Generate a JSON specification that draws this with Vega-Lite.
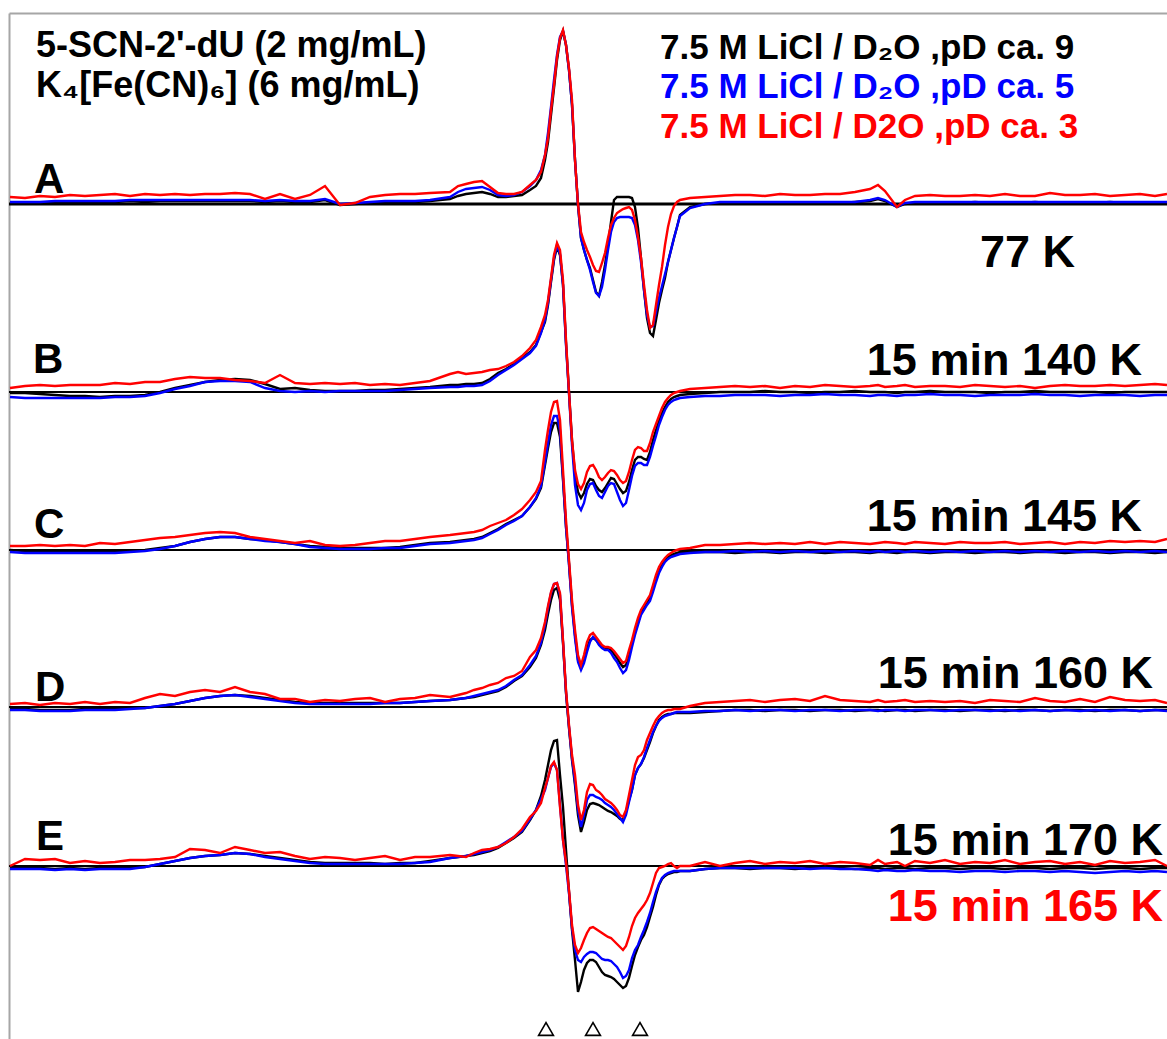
{
  "$schema": "https://vega.github.io/schema/vega-lite/v6.json",
  "width": 1158,
  "height": 1026,
  "autosize": "none",
  "padding": {"left": 9, "top": 13, "right": 0, "bottom": 0},
  "background": "white",
  "config": {
    "view": {"stroke": null},
    "font": "Liberation Sans",
    "axis": {"domainColor": "#a6a6a6", "domainWidth": 2, "ticks": false, "labels": false, "grid": false}
  },
  "datasets": {
    "zero": [
      {"panel": "A", "y": 204},
      {"panel": "B", "y": 392},
      {"panel": "C", "y": 550},
      {"panel": "D", "y": 707},
      {"panel": "E", "y": 866}
    ],
    "spectra": [
      {"x":10,"A9":203,"A5":202,"A3":197,"B9":393,"B5":397,"B3":388,"C9":550,"C5":552,"C3":546,"D9":709,"D5":710,"D3":704,"E9":868,"E5":869,"E3":866},
      {"x":25,"A9":203,"A5":202,"A3":198,"B9":393,"B5":398,"B3":386,"C9":551,"C5":553,"C3":546,"D9":709,"D5":710,"D3":703,"E9":868,"E5":869,"E3":859},
      {"x":40,"A9":203,"A5":202,"A3":196,"B9":394,"B5":398,"B3":385,"C9":551,"C5":553,"C3":545,"D9":710,"D5":711,"D3":705,"E9":868,"E5":869,"E3":860},
      {"x":55,"A9":202,"A5":201,"A3":197,"B9":395,"B5":398,"B3":386,"C9":551,"C5":553,"C3":546,"D9":710,"D5":711,"D3":703,"E9":869,"E5":870,"E3":859},
      {"x":70,"A9":203,"A5":201,"A3":195,"B9":396,"B5":398,"B3":385,"C9":552,"C5":553,"C3":545,"D9":710,"D5":711,"D3":704,"E9":868,"E5":869,"E3":863},
      {"x":85,"A9":202,"A5":201,"A3":196,"B9":396,"B5":398,"B3":385,"C9":552,"C5":553,"C3":546,"D9":709,"D5":710,"D3":702,"E9":869,"E5":870,"E3":861},
      {"x":100,"A9":202,"A5":201,"A3":195,"B9":397,"B5":398,"B3":385,"C9":552,"C5":553,"C3":543,"D9":709,"D5":710,"D3":704,"E9":868,"E5":869,"E3":863},
      {"x":115,"A9":202,"A5":201,"A3":194,"B9":396,"B5":397,"B3":383,"C9":552,"C5":553,"C3":544,"D9":709,"D5":710,"D3":702,"E9":868,"E5":869,"E3":862},
      {"x":130,"A9":201,"A5":200,"A3":196,"B9":396,"B5":397,"B3":384,"C9":551,"C5":552,"C3":542,"D9":708,"D5":709,"D3":703,"E9":868,"E5":869,"E3":860},
      {"x":145,"A9":202,"A5":200,"A3":194,"B9":395,"B5":396,"B3":382,"C9":550,"C5":551,"C3":540,"D9":708,"D5":708,"D3":698,"E9":867,"E5":867,"E3":860},
      {"x":160,"A9":201,"A5":200,"A3":195,"B9":392,"B5":393,"B3":382,"C9":548,"C5":549,"C3":538,"D9":706,"D5":706,"D3":694,"E9":864,"E5":864,"E3":859},
      {"x":175,"A9":201,"A5":200,"A3":194,"B9":388,"B5":389,"B3":379,"C9":546,"C5":546,"C3":537,"D9":704,"D5":704,"D3":696,"E9":861,"E5":861,"E3":857},
      {"x":190,"A9":201,"A5":200,"A3":195,"B9":385,"B5":386,"B3":377,"C9":542,"C5":542,"C3":535,"D9":701,"D5":701,"D3":692,"E9":858,"E5":858,"E3":849},
      {"x":205,"A9":201,"A5":200,"A3":194,"B9":382,"B5":382,"B3":378,"C9":539,"C5":539,"C3":533,"D9":698,"D5":698,"D3":690,"E9":856,"E5":856,"E3":850},
      {"x":220,"A9":201,"A5":200,"A3":194,"B9":380,"B5":381,"B3":378,"C9":537,"C5":537,"C3":532,"D9":696,"D5":696,"D3":692,"E9":855,"E5":855,"E3":853},
      {"x":235,"A9":201,"A5":200,"A3":193,"B9":379,"B5":381,"B3":380,"C9":537,"C5":537,"C3":533,"D9":695,"D5":695,"D3":687,"E9":853,"E5":853,"E3":847},
      {"x":250,"A9":201,"A5":200,"A3":194,"B9":380,"B5":382,"B3":381,"C9":539,"C5":539,"C3":537,"D9":696,"D5":697,"D3":692,"E9":854,"E5":854,"E3":850},
      {"x":265,"A9":202,"A5":201,"A3":199,"B9":384,"B5":388,"B3":383,"C9":540,"C5":541,"C3":539,"D9":698,"D5":699,"D3":694,"E9":856,"E5":857,"E3":853},
      {"x":280,"A9":201,"A5":200,"A3":194,"B9":389,"B5":391,"B3":375,"C9":542,"C5":542,"C3":541,"D9":700,"D5":701,"D3":699,"E9":858,"E5":859,"E3":852},
      {"x":295,"A9":202,"A5":201,"A3":199,"B9":388,"B5":392,"B3":383,"C9":544,"C5":544,"C3":543,"D9":702,"D5":703,"D3":699,"E9":860,"E5":861,"E3":856},
      {"x":310,"A9":202,"A5":201,"A3":195,"B9":390,"B5":391,"B3":384,"C9":546,"C5":547,"C3":541,"D9":703,"D5":704,"D3":702,"E9":862,"E5":863,"E3":859},
      {"x":325,"A9":200,"A5":199,"A3":186,"B9":391,"B5":392,"B3":383,"C9":547,"C5":548,"C3":545,"D9":703,"D5":704,"D3":700,"E9":863,"E5":864,"E3":857},
      {"x":340,"A9":205,"A5":204,"A3":205,"B9":391,"B5":391,"B3":384,"C9":548,"C5":549,"C3":546,"D9":703,"D5":704,"D3":701,"E9":863,"E5":864,"E3":858},
      {"x":355,"A9":204,"A5":203,"A3":203,"B9":391,"B5":391,"B3":383,"C9":548,"C5":549,"C3":545,"D9":703,"D5":704,"D3":699,"E9":863,"E5":864,"E3":860},
      {"x":370,"A9":203,"A5":202,"A3":197,"B9":390,"B5":391,"B3":385,"C9":548,"C5":549,"C3":543,"D9":703,"D5":704,"D3":698,"E9":863,"E5":864,"E3":858},
      {"x":385,"A9":202,"A5":201,"A3":195,"B9":390,"B5":391,"B3":384,"C9":548,"C5":548,"C3":541,"D9":703,"D5":703,"D3":702,"E9":864,"E5":864,"E3":856},
      {"x":400,"A9":202,"A5":201,"A3":194,"B9":389,"B5":390,"B3":385,"C9":547,"C5":548,"C3":541,"D9":703,"D5":703,"D3":699,"E9":863,"E5":864,"E3":860},
      {"x":415,"A9":202,"A5":201,"A3":194,"B9":388,"B5":389,"B3":383,"C9":545,"C5":546,"C3":539,"D9":702,"D5":702,"D3":698,"E9":863,"E5":863,"E3":857},
      {"x":430,"A9":201,"A5":200,"A3":193,"B9":387,"B5":388,"B3":381,"C9":543,"C5":544,"C3":537,"D9":701,"D5":701,"D3":695,"E9":861,"E5":862,"E3":857},
      {"x":450,"A9":199,"A5":197,"A3":192,"B9":385,"B5":387,"B3":374,"C9":542,"C5":543,"C3":535,"D9":700,"D5":700,"D3":697,"E9":858,"E5":858,"E3":855},
      {"x":458,"A9":196,"A5":192,"A3":186,"B9":385,"B5":387,"B3":372,"C9":541,"C5":542,"C3":534,"D9":699,"D5":699,"D3":695,"E9":857,"E5":857,"E3":856},
      {"x":466,"A9":194,"A5":189,"A3":184,"B9":384,"B5":386,"B3":374,"C9":540,"C5":541,"C3":533,"D9":698,"D5":698,"D3":693,"E9":856,"E5":856,"E3":857},
      {"x":474,"A9":193,"A5":188,"A3":182,"B9":384,"B5":386,"B3":373,"C9":539,"C5":540,"C3":532,"D9":697,"D5":696,"D3":690,"E9":855,"E5":854,"E3":853},
      {"x":482,"A9":192,"A5":187,"A3":181,"B9":383,"B5":385,"B3":372,"C9":537,"C5":538,"C3":530,"D9":695,"D5":694,"D3":688,"E9":853,"E5":852,"E3":850},
      {"x":490,"A9":194,"A5":190,"A3":187,"B9":379,"B5":381,"B3":370,"C9":533,"C5":534,"C3":526,"D9":693,"D5":692,"D3":685,"E9":851,"E5":850,"E3":849},
      {"x":498,"A9":197,"A5":195,"A3":193,"B9":373,"B5":375,"B3":369,"C9":529,"C5":530,"C3":523,"D9":691,"D5":690,"D3":683,"E9":848,"E5":847,"E3":847},
      {"x":506,"A9":197,"A5":196,"A3":194,"B9":369,"B5":370,"B3":366,"C9":524,"C5":525,"C3":520,"D9":687,"D5":686,"D3":678,"E9":843,"E5":842,"E3":843},
      {"x":514,"A9":196,"A5":195,"A3":194,"B9":364,"B5":365,"B3":362,"C9":520,"C5":521,"C3":515,"D9":681,"D5":680,"D3":676,"E9":838,"E5":837,"E3":837},
      {"x":522,"A9":195,"A5":192,"A3":192,"B9":358,"B5":359,"B3":356,"C9":516,"C5":516,"C3":509,"D9":676,"D5":675,"D3":671,"E9":832,"E5":831,"E3":829},
      {"x":530,"A9":190,"A5":186,"A3":185,"B9":352,"B5":353,"B3":348,"C9":507,"C5":507,"C3":500,"D9":667,"D5":665,"D3":657,"E9":820,"E5":819,"E3":817},
      {"x":536,"A9":186,"A5":180,"A3":180,"B9":345,"B5":346,"B3":340,"C9":499,"C5":498,"C3":492,"D9":658,"D5":656,"D3":650,"E9":810,"E5":810,"E3":811},
      {"x":541,"A9":178,"A5":170,"A3":172,"B9":332,"B5":333,"B3":327,"C9":488,"C5":486,"C3":481,"D9":645,"D5":643,"D3":638,"E9":796,"E5":799,"E3":803},
      {"x":545,"A9":160,"A5":155,"A3":155,"B9":322,"B5":320,"B3":315,"C9":465,"C5":462,"C3":450,"D9":630,"D5":625,"D3":622,"E9":780,"E5":790,"E3":788},
      {"x":548,"A9":142,"A5":133,"A3":138,"B9":305,"B5":303,"B3":300,"C9":448,"C5":443,"C3":430,"D9":614,"D5":608,"D3":606,"E9":765,"E5":778,"E3":778},
      {"x":551,"A9":115,"A5":107,"A3":110,"B9":282,"B5":280,"B3":278,"C9":432,"C5":425,"C3":412,"D9":600,"D5":593,"D3":592,"E9":750,"E5":767,"E3":766},
      {"x":554,"A9":88,"A5":80,"A3":85,"B9":260,"B5":258,"B3":255,"C9":423,"C5":416,"C3":402,"D9":590,"D5":584,"D3":584,"E9":741,"E5":763,"E3":762},
      {"x":557,"A9":60,"A5":55,"A3":57,"B9":247,"B5":245,"B3":243,"C9":423,"C5":416,"C3":401,"D9":588,"D5":583,"D3":583,"E9":740,"E5":770,"E3":770},
      {"x":560,"A9":40,"A5":37,"A3":38,"B9":255,"B5":254,"B3":250,"C9":437,"C5":430,"C3":420,"D9":600,"D5":595,"D3":593,"E9":775,"E5":805,"E3":807},
      {"x":563,"A9":31,"A5":31,"A3":30,"B9":285,"B5":285,"B3":280,"C9":480,"C5":478,"C3":470,"D9":643,"D5":642,"D3":640,"E9":807,"E5":840,"E3":840},
      {"x":566,"A9":45,"A5":45,"A3":45,"B9":343,"B5":345,"B3":340,"C9":527,"C5":527,"C3":520,"D9":693,"D5":692,"D3":690,"E9":850,"E5":865,"E3":862},
      {"x":569,"A9":70,"A5":70,"A3":68,"B9":392,"B5":394,"B3":392,"C9":563,"C5":565,"C3":560,"D9":728,"D5":727,"D3":725,"E9":892,"E5":893,"E3":890},
      {"x":572,"A9":105,"A5":105,"A3":100,"B9":440,"B5":445,"B3":440,"C9":605,"C5":607,"C3":600,"D9":760,"D5":758,"D3":755,"E9":930,"E5":928,"E3":925},
      {"x":575,"A9":160,"A5":160,"A3":160,"B9":475,"B5":485,"B3":470,"C9":635,"C5":638,"C3":630,"D9":785,"D5":782,"D3":775,"E9":960,"E5":950,"E3":945},
      {"x":578,"A9":205,"A5":205,"A3":204,"B9":492,"B5":505,"B3":484,"C9":660,"C5":662,"C3":655,"D9":815,"D5":810,"D3":805,"E9":992,"E5":960,"E3":953},
      {"x":581,"A9":238,"A5":238,"A3":232,"B9":498,"B5":510,"B3":489,"C9":668,"C5":670,"C3":665,"D9":832,"D5":827,"D3":820,"E9":982,"E5":962,"E3":948},
      {"x":584,"A9":250,"A5":250,"A3":242,"B9":493,"B5":503,"B3":483,"C9":660,"C5":663,"C3":655,"D9":822,"D5":815,"D3":810,"E9":970,"E5":957,"E3":940},
      {"x":587,"A9":260,"A5":260,"A3":250,"B9":484,"B5":490,"B3":472,"C9":648,"C5":652,"C3":642,"D9":810,"D5":800,"D3":792,"E9":963,"E5":954,"E3":933},
      {"x":590,"A9":268,"A5":270,"A3":257,"B9":479,"B5":484,"B3":466,"C9":640,"C5":642,"C3":635,"D9":804,"D5":795,"D3":784,"E9":960,"E5":952,"E3":928},
      {"x":593,"A9":280,"A5":282,"A3":265,"B9":480,"B5":483,"B3":465,"C9":638,"C5":637,"C3":633,"D9":803,"D5":795,"D3":785,"E9":960,"E5":952,"E3":927},
      {"x":596,"A9":292,"A5":293,"A3":271,"B9":486,"B5":490,"B3":470,"C9":640,"C5":640,"C3":637,"D9":804,"D5":797,"D3":790,"E9":962,"E5":953,"E3":929},
      {"x":599,"A9":296,"A5":296,"A3":272,"B9":490,"B5":496,"B3":477,"C9":644,"C5":645,"C3":641,"D9":805,"D5":798,"D3":792,"E9":967,"E5":956,"E3":931},
      {"x":602,"A9":282,"A5":287,"A3":263,"B9":492,"B5":498,"B3":480,"C9":647,"C5":648,"C3":645,"D9":807,"D5":800,"D3":795,"E9":972,"E5":959,"E3":933},
      {"x":605,"A9":265,"A5":270,"A3":253,"B9":488,"B5":492,"B3":477,"C9":648,"C5":650,"C3":647,"D9":809,"D5":803,"D3":799,"E9":975,"E5":960,"E3":935},
      {"x":608,"A9":245,"A5":250,"A3":238,"B9":483,"B5":486,"B3":473,"C9":648,"C5":650,"C3":647,"D9":811,"D5":805,"D3":801,"E9":976,"E5":960,"E3":937},
      {"x":611,"A9":222,"A5":232,"A3":225,"B9":478,"B5":483,"B3":470,"C9":650,"C5":653,"C3":648,"D9":812,"D5":807,"D3":803,"E9":977,"E5":961,"E3":938},
      {"x":614,"A9":200,"A5":222,"A3":218,"B9":479,"B5":484,"B3":471,"C9":654,"C5":658,"C3":651,"D9":814,"D5":810,"D3":806,"E9":979,"E5":964,"E3":941},
      {"x":617,"A9":197,"A5":218,"A3":213,"B9":484,"B5":492,"B3":475,"C9":658,"C5":662,"C3":655,"D9":816,"D5":814,"D3":810,"E9":982,"E5":967,"E3":944},
      {"x":620,"A9":197,"A5":217,"A3":211,"B9":489,"B5":500,"B3":480,"C9":663,"C5":668,"C3":659,"D9":819,"D5":818,"D3":815,"E9":985,"E5":972,"E3":947},
      {"x":623,"A9":197,"A5":217,"A3":209,"B9":493,"B5":506,"B3":483,"C9":667,"C5":673,"C3":663,"D9":820,"D5":822,"D3":817,"E9":988,"E5":978,"E3":950},
      {"x":626,"A9":197,"A5":217,"A3":208,"B9":491,"B5":503,"B3":481,"C9":665,"C5":670,"C3":661,"D9":812,"D5":815,"D3":810,"E9":986,"E5":976,"E3":946},
      {"x":629,"A9":197,"A5":217,"A3":207,"B9":482,"B5":490,"B3":472,"C9":655,"C5":660,"C3":650,"D9":800,"D5":802,"D3":795,"E9":978,"E5":970,"E3":937},
      {"x":632,"A9":198,"A5":218,"A3":210,"B9":470,"B5":476,"B3":460,"C9":643,"C5":647,"C3":640,"D9":790,"D5":790,"D3":780,"E9":966,"E5":958,"E3":926},
      {"x":635,"A9":207,"A5":225,"A3":220,"B9":460,"B5":466,"B3":450,"C9":632,"C5":635,"C3":628,"D9":775,"D5":775,"D3":765,"E9":955,"E5":950,"E3":918},
      {"x":638,"A9":228,"A5":240,"A3":237,"B9":457,"B5":463,"B3":447,"C9":622,"C5":625,"C3":618,"D9":768,"D5":768,"D3":757,"E9":947,"E5":945,"E3":913},
      {"x":641,"A9":258,"A5":262,"A3":258,"B9":457,"B5":463,"B3":448,"C9":613,"C5":615,"C3":610,"D9":764,"D5":764,"D3":755,"E9":940,"E5":937,"E3":909},
      {"x":644,"A9":290,"A5":290,"A3":285,"B9":459,"B5":465,"B3":451,"C9":608,"C5":610,"C3":605,"D9":758,"D5":757,"D3":750,"E9":935,"E5":930,"E3":905},
      {"x":647,"A9":318,"A5":315,"A3":310,"B9":460,"B5":465,"B3":451,"C9":603,"C5":605,"C3":600,"D9":750,"D5":748,"D3":740,"E9":927,"E5":922,"E3":900},
      {"x":650,"A9":333,"A5":327,"A3":328,"B9":452,"B5":457,"B3":443,"C9":598,"C5":601,"C3":595,"D9":742,"D5":740,"D3":733,"E9":917,"E5":913,"E3":893},
      {"x":653,"A9":336,"A5":326,"A3":325,"B9":440,"B5":446,"B3":432,"C9":588,"C5":592,"C3":585,"D9":733,"D5":732,"D3":726,"E9":907,"E5":902,"E3":883},
      {"x":656,"A9":320,"A5":312,"A3":305,"B9":430,"B5":436,"B3":424,"C9":578,"C5":582,"C3":575,"D9":726,"D5":726,"D3":720,"E9":895,"E5":892,"E3":873},
      {"x":659,"A9":303,"A5":298,"A3":285,"B9":421,"B5":425,"B3":416,"C9":570,"C5":573,"C3":567,"D9":720,"D5":721,"D3":716,"E9":885,"E5":884,"E3":868},
      {"x":662,"A9":290,"A5":286,"A3":267,"B9":413,"B5":417,"B3":408,"C9":565,"C5":567,"C3":562,"D9":717,"D5":718,"D3":713,"E9":879,"E5":878,"E3":867},
      {"x":665,"A9":278,"A5":274,"A3":245,"B9":407,"B5":410,"B3":402,"C9":560,"C5":562,"C3":558,"D9":715,"D5":716,"D3":711,"E9":876,"E5":875,"E3":866},
      {"x":668,"A9":262,"A5":262,"A3":227,"B9":402,"B5":405,"B3":398,"C9":557,"C5":559,"C3":555,"D9":714,"D5":715,"D3":710,"E9":874,"E5":873,"E3":864},
      {"x":671,"A9":250,"A5":250,"A3":214,"B9":399,"B5":402,"B3":395,"C9":555,"C5":557,"C3":553,"D9":714,"D5":714,"D3":710,"E9":873,"E5":872,"E3":863},
      {"x":674,"A9":238,"A5":238,"A3":206,"B9":397,"B5":400,"B3":393,"C9":554,"C5":556,"C3":551,"D9":713,"D5":713,"D3":709,"E9":872,"E5":871,"E3":866},
      {"x":677,"A9":227,"A5":227,"A3":202,"B9":396,"B5":399,"B3":392,"C9":553,"C5":555,"C3":550,"D9":713,"D5":712,"D3":709,"E9":872,"E5":871,"E3":868},
      {"x":680,"A9":215,"A5":216,"A3":200,"B9":395,"B5":398,"B3":391,"C9":552,"C5":554,"C3":549,"D9":713,"D5":712,"D3":709,"E9":871,"E5":871,"E3":866},
      {"x":690,"A9":207,"A5":208,"A3":198,"B9":394,"B5":397,"B3":389,"C9":552,"C5":553,"C3":548,"D9":713,"D5":712,"D3":706,"E9":871,"E5":871,"E3":866},
      {"x":705,"A9":204,"A5":204,"A3":197,"B9":393,"B5":396,"B3":388,"C9":552,"C5":552,"C3":545,"D9":712,"D5":711,"D3":703,"E9":869,"E5":869,"E3":862},
      {"x":720,"A9":203,"A5":202,"A3":196,"B9":392,"B5":396,"B3":387,"C9":552,"C5":552,"C3":545,"D9":711,"D5":711,"D3":702,"E9":868,"E5":868,"E3":866},
      {"x":735,"A9":203,"A5":202,"A3":195,"B9":392,"B5":395,"B3":386,"C9":553,"C5":551,"C3":544,"D9":710,"D5":710,"D3":701,"E9":868,"E5":868,"E3":863},
      {"x":750,"A9":203,"A5":202,"A3":195,"B9":392,"B5":395,"B3":387,"C9":552,"C5":552,"C3":543,"D9":710,"D5":711,"D3":700,"E9":869,"E5":868,"E3":861},
      {"x":765,"A9":203,"A5":202,"A3":196,"B9":391,"B5":395,"B3":386,"C9":552,"C5":551,"C3":544,"D9":711,"D5":710,"D3":702,"E9":868,"E5":868,"E3":864},
      {"x":780,"A9":203,"A5":202,"A3":194,"B9":392,"B5":396,"B3":388,"C9":553,"C5":552,"C3":543,"D9":710,"D5":710,"D3":700,"E9":868,"E5":868,"E3":862},
      {"x":795,"A9":203,"A5":202,"A3":195,"B9":392,"B5":395,"B3":386,"C9":552,"C5":551,"C3":544,"D9":710,"D5":711,"D3":699,"E9":869,"E5":868,"E3":863},
      {"x":810,"A9":203,"A5":202,"A3":195,"B9":393,"B5":395,"B3":387,"C9":552,"C5":552,"C3":542,"D9":711,"D5":710,"D3":701,"E9":868,"E5":869,"E3":861},
      {"x":825,"A9":203,"A5":202,"A3":194,"B9":392,"B5":394,"B3":385,"C9":553,"C5":551,"C3":544,"D9":710,"D5":710,"D3":696,"E9":868,"E5":868,"E3":864},
      {"x":840,"A9":203,"A5":202,"A3":194,"B9":392,"B5":395,"B3":386,"C9":552,"C5":552,"C3":542,"D9":710,"D5":711,"D3":700,"E9":868,"E5":869,"E3":862},
      {"x":855,"A9":202,"A5":202,"A3":192,"B9":391,"B5":395,"B3":387,"C9":552,"C5":551,"C3":543,"D9":711,"D5":710,"D3":701,"E9":869,"E5":869,"E3":863},
      {"x":870,"A9":201,"A5":200,"A3":189,"B9":392,"B5":396,"B3":386,"C9":553,"C5":552,"C3":544,"D9":710,"D5":710,"D3":702,"E9":868,"E5":870,"E3":865},
      {"x":878,"A9":199,"A5":198,"A3":185,"B9":392,"B5":395,"B3":385,"C9":552,"C5":551,"C3":543,"D9":710,"D5":711,"D3":700,"E9":868,"E5":871,"E3":860},
      {"x":885,"A9":201,"A5":200,"A3":191,"B9":392,"B5":395,"B3":387,"C9":552,"C5":552,"C3":542,"D9":711,"D5":710,"D3":702,"E9":869,"E5":870,"E3":864},
      {"x":897,"A9":207,"A5":207,"A3":207,"B9":393,"B5":396,"B3":386,"C9":553,"C5":551,"C3":543,"D9":710,"D5":710,"D3":701,"E9":868,"E5":871,"E3":862},
      {"x":905,"A9":204,"A5":203,"A3":200,"B9":392,"B5":395,"B3":385,"C9":552,"C5":552,"C3":544,"D9":710,"D5":711,"D3":700,"E9":868,"E5":871,"E3":866},
      {"x":915,"A9":203,"A5":202,"A3":196,"B9":392,"B5":395,"B3":387,"C9":552,"C5":551,"C3":542,"D9":711,"D5":710,"D3":702,"E9":869,"E5":870,"E3":861},
      {"x":930,"A9":203,"A5":202,"A3":195,"B9":391,"B5":394,"B3":386,"C9":553,"C5":552,"C3":543,"D9":710,"D5":710,"D3":701,"E9":868,"E5":871,"E3":863},
      {"x":945,"A9":203,"A5":202,"A3":196,"B9":392,"B5":395,"B3":386,"C9":552,"C5":551,"C3":544,"D9":710,"D5":711,"D3":702,"E9":868,"E5":871,"E3":860},
      {"x":960,"A9":203,"A5":202,"A3":196,"B9":392,"B5":395,"B3":387,"C9":552,"C5":552,"C3":542,"D9":711,"D5":710,"D3":701,"E9":869,"E5":872,"E3":864},
      {"x":975,"A9":202,"A5":202,"A3":195,"B9":392,"B5":396,"B3":385,"C9":553,"C5":551,"C3":543,"D9":710,"D5":710,"D3":703,"E9":868,"E5":871,"E3":862},
      {"x":990,"A9":203,"A5":202,"A3":196,"B9":393,"B5":395,"B3":386,"C9":552,"C5":552,"C3":543,"D9":710,"D5":711,"D3":700,"E9":868,"E5":871,"E3":863},
      {"x":1005,"A9":203,"A5":202,"A3":194,"B9":392,"B5":395,"B3":387,"C9":552,"C5":551,"C3":542,"D9":711,"D5":710,"D3":701,"E9":869,"E5":872,"E3":860},
      {"x":1020,"A9":203,"A5":202,"A3":196,"B9":392,"B5":395,"B3":386,"C9":553,"C5":552,"C3":544,"D9":710,"D5":711,"D3":702,"E9":868,"E5":871,"E3":864},
      {"x":1035,"A9":202,"A5":202,"A3":196,"B9":391,"B5":394,"B3":388,"C9":552,"C5":551,"C3":543,"D9":710,"D5":710,"D3":698,"E9":868,"E5":871,"E3":862},
      {"x":1050,"A9":203,"A5":202,"A3":193,"B9":392,"B5":395,"B3":386,"C9":552,"C5":552,"C3":542,"D9":711,"D5":711,"D3":701,"E9":869,"E5":872,"E3":861},
      {"x":1065,"A9":203,"A5":202,"A3":195,"B9":392,"B5":395,"B3":385,"C9":553,"C5":551,"C3":544,"D9":710,"D5":710,"D3":702,"E9":868,"E5":871,"E3":864},
      {"x":1080,"A9":203,"A5":202,"A3":195,"B9":392,"B5":396,"B3":386,"C9":552,"C5":552,"C3":542,"D9":710,"D5":711,"D3":699,"E9":868,"E5":872,"E3":862},
      {"x":1095,"A9":203,"A5":202,"A3":194,"B9":392,"B5":395,"B3":386,"C9":552,"C5":551,"C3":543,"D9":711,"D5":710,"D3":702,"E9":869,"E5":873,"E3":865},
      {"x":1110,"A9":202,"A5":202,"A3":196,"B9":393,"B5":395,"B3":385,"C9":553,"C5":552,"C3":541,"D9":710,"D5":711,"D3":697,"E9":868,"E5":872,"E3":861},
      {"x":1125,"A9":203,"A5":202,"A3":195,"B9":392,"B5":395,"B3":386,"C9":552,"C5":551,"C3":542,"D9":710,"D5":710,"D3":700,"E9":868,"E5":871,"E3":863},
      {"x":1140,"A9":203,"A5":202,"A3":194,"B9":392,"B5":396,"B3":385,"C9":552,"C5":552,"C3":541,"D9":711,"D5":711,"D3":701,"E9":869,"E5":872,"E3":862},
      {"x":1155,"A9":203,"A5":202,"A3":196,"B9":392,"B5":395,"B3":384,"C9":553,"C5":551,"C3":542,"D9":710,"D5":710,"D3":700,"E9":868,"E5":871,"E3":860},
      {"x":1167,"A9":203,"A5":202,"A3":194,"B9":392,"B5":395,"B3":385,"C9":552,"C5":552,"C3":539,"D9":710,"D5":711,"D3":703,"E9":868,"E5":872,"E3":866}
    ],
    "header": [
      {"x": 36, "y": 57, "text": "5-SCN-2'-dU (2 mg/mL)"},
      {"x": 36, "y": 97, "text": "K₄[Fe(CN)₆] (6 mg/mL)"}
    ],
    "legend": [
      {"x": 660, "y": 59, "cond": "pD ca. 9", "text": "7.5 M LiCl / D₂O ,pD ca. 9"},
      {"x": 660, "y": 98, "cond": "pD ca. 5", "text": "7.5 M LiCl / D₂O ,pD ca. 5"},
      {"x": 660, "y": 138, "cond": "pD ca. 3", "text": "7.5 M LiCl / D2O ,pD ca. 3"}
    ],
    "panels": [
      {"x": 34, "y": 193, "text": "A"},
      {"x": 33, "y": 373, "text": "B"},
      {"x": 34, "y": 538, "text": "C"},
      {"x": 35, "y": 701, "text": "D"},
      {"x": 36, "y": 850, "text": "E"}
    ],
    "temps": [
      {"x": 1075, "y": 267, "cond": "pD ca. 9", "text": "77 K"},
      {"x": 1142, "y": 375, "cond": "pD ca. 9", "text": "15 min 140 K"},
      {"x": 1142, "y": 531, "cond": "pD ca. 9", "text": "15 min 145 K"},
      {"x": 1153, "y": 688, "cond": "pD ca. 9", "text": "15 min 160 K"},
      {"x": 1163, "y": 855, "cond": "pD ca. 9", "text": "15 min 170 K"},
      {"x": 1163, "y": 921, "cond": "pD ca. 3", "text": "15 min 165 K"}
    ],
    "lines": [
      {"x": 546, "y": 1029},
      {"x": 593, "y": 1029},
      {"x": 640, "y": 1029}
    ]
  },
  "layer": [
    {
      "data": {"name": "zero"},
      "mark": {"type": "rule", "color": "black"},
      "encoding": {
        "y": {"field": "y", "type": "quantitative", "scale": {"domain": [13, 1039], "nice": false, "zero": false, "reverse": true}, "axis": {"title": null}},
        "strokeWidth": {"condition": {"test": "datum.panel === 'A'", "value": 3}, "value": 2.2}
      }
    },
    {
      "data": {"name": "spectra"},
      "transform": [{"fold": ["A9", "B9", "C9", "D9", "E9"], "as": ["series", "y"]}],
      "mark": {"type": "line", "color": "#000000", "strokeWidth": 2.4},
      "encoding": {
        "x": {"field": "x", "type": "quantitative", "scale": {"domain": [9, 1167], "nice": false, "zero": false}, "axis": {"orient": "top", "title": null}},
        "y": {"field": "y", "type": "quantitative", "scale": {"domain": [13, 1039], "nice": false, "zero": false, "reverse": true}, "axis": {"title": null}},
        "detail": {"field": "series"}
      }
    },
    {
      "data": {"name": "spectra"},
      "transform": [{"fold": ["A5", "B5", "C5", "D5", "E5"], "as": ["series", "y"]}],
      "mark": {"type": "line", "color": "#0000ff", "strokeWidth": 2.4},
      "encoding": {
        "x": {"field": "x", "type": "quantitative"},
        "y": {"field": "y", "type": "quantitative"},
        "detail": {"field": "series"}
      }
    },
    {
      "data": {"name": "spectra"},
      "transform": [{"fold": ["A3", "B3", "C3", "D3", "E3"], "as": ["series", "y"]}],
      "mark": {"type": "line", "color": "#ff0000", "strokeWidth": 2.4},
      "encoding": {
        "x": {"field": "x", "type": "quantitative"},
        "y": {"field": "y", "type": "quantitative"},
        "detail": {"field": "series"}
      }
    },
    {
      "data": {"name": "header"},
      "mark": {"type": "text", "align": "left", "baseline": "alphabetic", "fontSize": 36, "fontWeight": "bold", "color": "black"},
      "encoding": {
        "x": {"field": "x", "type": "quantitative"},
        "y": {"field": "y", "type": "quantitative"},
        "text": {"field": "text"}
      }
    },
    {
      "data": {"name": "legend"},
      "mark": {"type": "text", "align": "left", "baseline": "alphabetic", "fontSize": 35, "fontWeight": "bold"},
      "encoding": {
        "x": {"field": "x", "type": "quantitative"},
        "y": {"field": "y", "type": "quantitative"},
        "text": {"field": "text"},
        "color": {"field": "cond", "type": "nominal", "scale": {"domain": ["pD ca. 9", "pD ca. 5", "pD ca. 3"], "range": ["#000000", "#0000ff", "#ff0000"]}, "legend": null}
      }
    },
    {
      "data": {"name": "panels"},
      "mark": {"type": "text", "align": "left", "baseline": "alphabetic", "fontSize": 42, "fontWeight": "bold", "color": "black"},
      "encoding": {
        "x": {"field": "x", "type": "quantitative"},
        "y": {"field": "y", "type": "quantitative"},
        "text": {"field": "text"}
      }
    },
    {
      "data": {"name": "temps"},
      "mark": {"type": "text", "align": "right", "baseline": "alphabetic", "fontSize": 45, "fontWeight": "bold"},
      "encoding": {
        "x": {"field": "x", "type": "quantitative"},
        "y": {"field": "y", "type": "quantitative"},
        "text": {"field": "text"},
        "color": {"field": "cond", "type": "nominal", "legend": null}
      }
    },
    {
      "data": {"name": "lines"},
      "mark": {"type": "point", "shape": "triangle-up", "filled": false, "color": "black", "size": 220, "strokeWidth": 1.6, "opacity": 1},
      "encoding": {
        "x": {"field": "x", "type": "quantitative"},
        "y": {"field": "y", "type": "quantitative"}
      }
    }
  ]
}
